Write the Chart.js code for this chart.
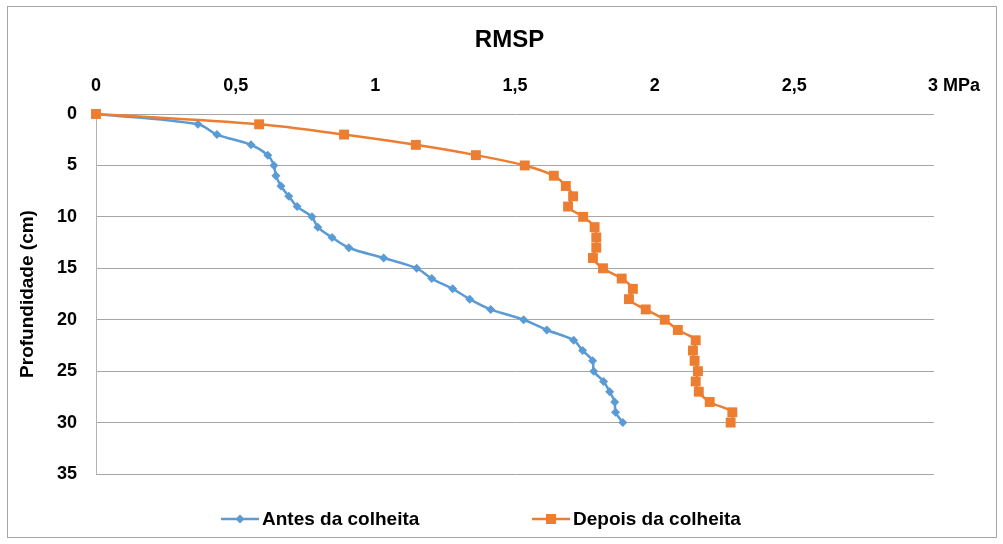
<!DOCTYPE html>
<html lang="pt">
<head>
<meta charset="UTF-8">
<title>RMSP</title>
<script src="https://cdn.jsdelivr.net/npm/chart.js"></script>
<style>
  body { margin: 0; background: #fff; }
</style>
</head>
<body>
<canvas id="rmsp" width="1003" height="544"></canvas>
<script>
// profundidade (cm)
const profundidade = [0, 1, 2, 3, 4, 5, 6, 7, 8, 9, 10, 11, 12, 13, 14, 15, 16, 17, 18, 19, 20, 21, 22, 23, 24, 25, 26, 27, 28, 29, 30];
// resistencia (MPa)
const antes = [0, 0.365, 0.433, 0.555, 0.615, 0.637, 0.644, 0.662, 0.69, 0.72, 0.773, 0.794, 0.845, 0.905, 1.03, 1.148, 1.202, 1.277, 1.338, 1.413, 1.531, 1.614, 1.71, 1.742, 1.778, 1.782, 1.817, 1.839, 1.857, 1.86, 1.886];
const depois = [0, 0.584, 0.888, 1.145, 1.36, 1.535, 1.639, 1.682, 1.708, 1.69, 1.744, 1.785, 1.791, 1.791, 1.779, 1.815, 1.882, 1.922, 1.908, 1.968, 2.036, 2.083, 2.147, 2.137, 2.143, 2.155, 2.147, 2.158, 2.197, 2.278, 2.272];
const xTicks = [0, 0.5, 1, 1.5, 2, 2.5, 3];
const yTicks = [0, 5, 10, 15, 20, 25, 30, 35];

const azul = '#5B9BD5';
const laranja = '#ED7D31';
const fonte = 'Liberation Sans, Arial, sans-serif';

function pontos(valores) {
  return valores.map((v, i) => ({ x: v, y: profundidade[i] }));
}

// moldura cinza e fundo branco
const moldura = {
  id: 'moldura',
  beforeDraw(chart) {
    const c = chart.ctx;
    c.save();
    c.fillStyle = '#fff';
    c.fillRect(0, 0, chart.width, chart.height);
    c.strokeStyle = '#a6a6a6';
    c.lineWidth = 1;
    c.strokeRect(7.5, 6.5, 989, 531);
    c.restore();
  }
};

// legenda estilo Excel (linha + marcador)
const legenda = {
  id: 'legendaExcel',
  afterDraw(chart) {
    const c = chart.ctx;
    const itens = [{ ds: 0, x: 221 }, { ds: 1, x: 532 }];
    const y = 519;
    c.save();
    itens.forEach(it => {
      const ds = chart.data.datasets[it.ds];
      c.strokeStyle = ds.borderColor;
      c.lineWidth = 2.5;
      c.beginPath();
      c.moveTo(it.x, y);
      c.lineTo(it.x + 38, y);
      c.stroke();
      c.fillStyle = ds.borderColor;
      const cx = it.x + 19;
      if (ds.pointStyle === 'rectRot') {
        c.beginPath();
        c.moveTo(cx, y - 4.5); c.lineTo(cx + 4.5, y); c.lineTo(cx, y + 4.5); c.lineTo(cx - 4.5, y);
        c.closePath(); c.fill();
      } else {
        c.fillRect(cx - 5, y - 5, 10, 10);
      }
      c.fillStyle = '#000';
      c.font = 'bold 19px ' + fonte;
      c.textBaseline = 'middle';
      c.textAlign = 'left';
      c.fillText(ds.label, it.x + 41, y + 1);
    });
    c.restore();
  }
};

new Chart(document.getElementById('rmsp'), {
  type: 'scatter',
  data: {
    datasets: [
      {
        label: 'Antes da colheita',
        data: pontos(antes),
        showLine: true,
        borderColor: azul,
        backgroundColor: azul,
        borderWidth: 2.5,
        pointStyle: 'rectRot',
        pointRadius: 4.5,
        pointBorderWidth: 0,
        tension: 0.35,
        clip: false,
        order: 1
      },
      {
        label: 'Depois da colheita',
        data: pontos(depois),
        showLine: true,
        borderColor: laranja,
        backgroundColor: laranja,
        borderWidth: 2.5,
        pointStyle: 'rect',
        pointRadius: 7,
        pointBorderWidth: 0,
        tension: 0.35,
        clip: false,
        order: 0
      }
    ]
  },
  options: {
    responsive: false,
    animation: false,
    layout: { padding: { left: 16, right: 0, top: 0, bottom: 70 } },
    plugins: {
      legend: { display: false },
      tooltip: { enabled: false },
      title: {
        display: true,
        text: 'RMSP',
        color: '#000',
        font: { family: fonte, size: 24, weight: 'bold' },
        padding: { top: 26, bottom: 5 }
      }
    },
    scales: {
      x: {
        type: 'linear',
        position: 'top',
        min: 0,
        max: 3,
        afterFit: s => { s.height = 114 - 59.8; },
        afterBuildTicks: s => { s.ticks = xTicks.map(v => ({ value: v })); },
        grid: { display: false, drawTicks: false },
        border: { display: false },
        ticks: {
          padding: 17,
          color: '#000',
          font: { family: fonte, size: 18, weight: 'bold' },
          callback: v => v === 3 ? '        3 MPa' : String(v).replace('.', ',')
        }
      },
      y: {
        type: 'linear',
        reverse: true,
        min: 0,
        max: 35,
        afterFit: s => { s.width = 80; },
        afterBuildTicks: s => { s.ticks = yTicks.map(v => ({ value: v })); },
        grid: { color: '#a6a6a6', lineWidth: 1, drawTicks: false },
        border: { display: true, color: '#b4b4b4', width: 1 },
        ticks: {
          padding: 19,
          color: '#000',
          font: { family: fonte, size: 18, weight: 'bold' }
        },
        title: {
          display: true,
          text: 'Profundidade (cm)',
          color: '#000',
          font: { family: fonte, size: 19, weight: 'bold' },
          padding: { top: 0, bottom: 0 }
        }
      },
      // eixo vazio a direita, so para reservar a margem
      margem: {
        type: 'linear',
        position: 'right',
        afterFit: s => { s.width = 69; },
        grid: { display: false, drawTicks: false },
        border: { display: false },
        ticks: { display: false }
      }
    }
  },
  plugins: [moldura, legenda]
});
</script>
</body>
</html>
